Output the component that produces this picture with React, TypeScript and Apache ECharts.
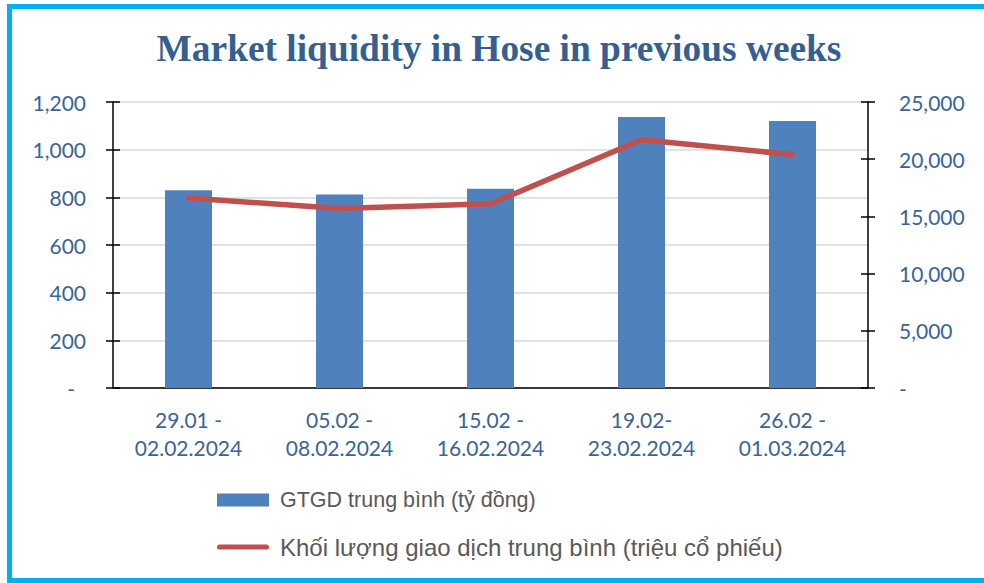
import React, { useEffect, useRef } from "react";
import * as echarts from "echarts";

const categories = [
  "29.01 -\n02.02.2024",
  "05.02 -\n08.02.2024",
  "15.02 -\n16.02.2024",
  "19.02-\n23.02.2024",
  "26.02 -\n01.03.2024",
];
const valueSeries = [830, 812, 836, 1137, 1120];
const volumeSeries = [16600, 15700, 16100, 21700, 20400];
const barName = "GTGD trung bình (tỷ đồng)";
const lineName = "Khối lượng giao dịch trung bình (triệu cổ phiếu)";
const titleText = "Market liquidity in Hose in previous weeks";

const labelColor = "#3A6497";
const labelFont = "Lato";

export default function App() {
  const ref = useRef<HTMLDivElement>(null);
  useEffect(() => {
    if (!ref.current) return;
    const chart = echarts.init(ref.current, null, { renderer: "svg" });
    const fmt = (v: number) => (v === 0 ? "-" : v.toLocaleString("en-US"));
    const baseLabel = { color: labelColor, fontFamily: labelFont, fontSize: 21 };
    const legendText = { fontFamily: "Liberation Sans", color: "#595959" };
    chart.setOption({
      animation: false,
      backgroundColor: "#ffffff",
      graphic: [
        {
          type: "rect",
          shape: { x: 9.5, y: 6.5, width: 1000, height: 574 },
          style: { fill: "none", stroke: "#00B0F0", lineWidth: 5 },
          silent: true,
        },
        {
          type: "text",
          x: 499,
          y: 48,
          style: {
            text: titleText,
            fontFamily: "Liberation Serif",
            fontWeight: "bold",
            fontSize: 37.4,
            fill: "#365F91",
            textAlign: "center",
            textVerticalAlign: "middle",
          },
          silent: true,
        },
      ],
      legend: {
        orient: "vertical",
        left: 212,
        top: 484,
        itemWidth: 52,
        itemHeight: 13,
        itemGap: 24,
        formatter: (name: string) => (name === lineName ? `{b|${name}}` : `{a|${name}}`),
        textStyle: {
          ...legendText,
          fontSize: 21.5,
          padding: [0, 0, 0, 6],
          rich: {
            a: { ...legendText, fontSize: 21.5 },
            b: { ...legendText, fontSize: 24 },
          },
        },
        data: [
          { name: barName, icon: "rect" },
          {
            name: lineName,
            icon: "path://M2.6,0 H49.4 A2.6,2.6 0 0 1 49.4,5.2 H2.6 A2.6,2.6 0 0 1 2.6,0 Z",
          },
        ],
      },
      grid: { left: 113, right: 116, top: 102, bottom: 195, containLabel: false },
      xAxis: {
        type: "category",
        data: categories,
        axisLine: { lineStyle: { color: "#000", width: 1.5 } },
        axisTick: { show: false },
        axisLabel: { ...baseLabel, lineHeight: 28, margin: 17, interval: 0 },
      },
      yAxis: [
        {
          type: "value",
          position: "left",
          min: 0,
          max: 1200,
          interval: 200,
          axisLine: { show: true, lineStyle: { color: "#000", width: 1.5 } },
          axisTick: { show: true, length: 7, lineStyle: { color: "#000", width: 1.5 } },
          splitLine: { show: true, lineStyle: { color: "#D9D9D9", width: 1.5 } },
          axisLabel: {
            ...baseLabel,
            margin: 27,
            formatter: (v: number) => (v === 0 ? "{d|-}" : fmt(v)),
            rich: { d: { ...baseLabel, padding: [0, 11, 0, 0] } },
          },
        },
        {
          type: "value",
          position: "right",
          min: 0,
          max: 25000,
          interval: 5000,
          axisLine: { show: true, lineStyle: { color: "#000", width: 1.5 } },
          axisTick: { show: true, length: 7, lineStyle: { color: "#000", width: 1.5 } },
          splitLine: { show: false },
          axisLabel: { ...baseLabel, margin: 31, formatter: fmt },
        },
        {
          type: "value",
          position: "left",
          offset: 0,
          min: 0,
          max: 1200,
          interval: 200,
          axisLine: { show: false },
          axisTick: { show: true, inside: true, length: 7, lineStyle: { color: "#000", width: 1.5 } },
          splitLine: { show: false },
          axisLabel: { show: false },
        },
        {
          type: "value",
          position: "right",
          offset: 0,
          min: 0,
          max: 25000,
          interval: 5000,
          axisLine: { show: false },
          axisTick: { show: true, inside: true, length: 7, lineStyle: { color: "#000", width: 1.5 } },
          splitLine: { show: false },
          axisLabel: { show: false },
        },
      ],
      series: [
        {
          name: barName,
          type: "bar",
          data: valueSeries,
          barWidth: 47,
          yAxisIndex: 0,
          itemStyle: { color: "#4F81BD" },
        },
        {
          name: lineName,
          type: "line",
          data: volumeSeries,
          yAxisIndex: 1,
          symbol: "none",
          showSymbol: false,
          lineStyle: { color: "#C0504D", width: 5.5, cap: "round", join: "round" },
          itemStyle: { color: "#C0504D" },
          z: 3,
        },
      ],
    });
    return () => chart.dispose();
  }, []);
  return (
    <div
      ref={ref}
      style={{ position: "absolute", left: 0, top: 0, width: 984, height: 583 }}
    />
  );
}
